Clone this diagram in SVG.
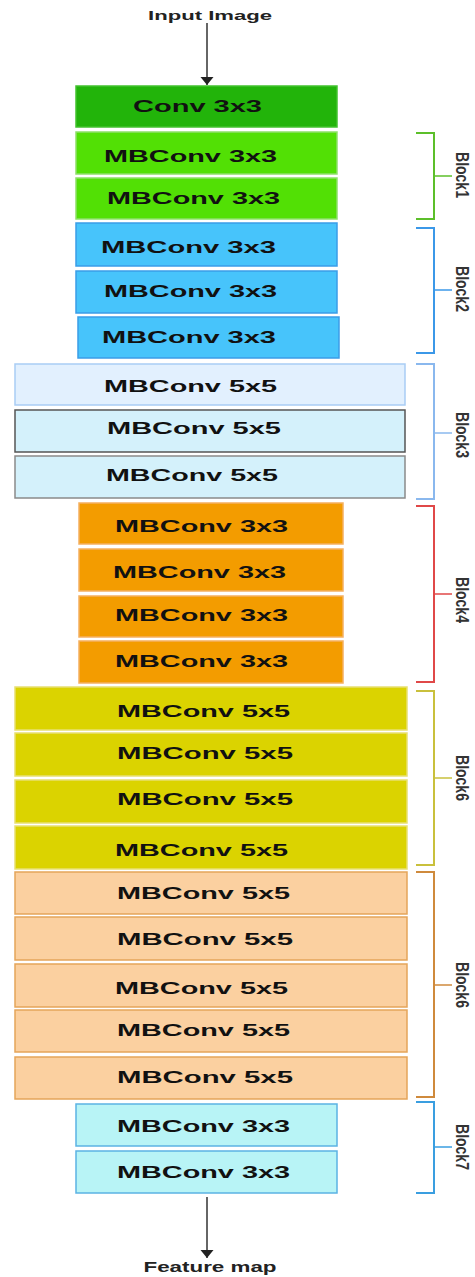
<svg xmlns="http://www.w3.org/2000/svg" width="475" height="1277" viewBox="0 0 475 1277">
<style>
.lb{font-family:"Liberation Sans",Arial,sans-serif;font-weight:bold;font-size:17px;fill:#111;}
.io{font-family:"Liberation Sans",Arial,sans-serif;font-weight:bold;font-size:13px;fill:#222;text-anchor:middle;}
.bl{font-family:"Liberation Sans",Arial,sans-serif;font-weight:bold;font-size:14px;fill:#333;text-anchor:middle;}
.br{fill:none;stroke-width:2;}
.tk{stroke-width:1.5;}
.conv{fill:#22b40a;stroke:#42c22e;stroke-width:1.5;}
.b1{fill:#52e005;stroke:#8ee06a;stroke-width:1.5;}
.b2{fill:#47c4fb;stroke:#3a9de8;stroke-width:1.5;}
.b3a{fill:#e2f0fe;stroke:#a9cdf5;stroke-width:1.5;}
.b3b{fill:#d4f1fb;stroke:#555;stroke-width:1.5;}
.b3c{fill:#d4f1fb;stroke:#8a8a8a;stroke-width:1.5;}
.b4{fill:#f39c00;stroke:#f5b060;stroke-width:1.5;}
.b5{fill:#dbd300;stroke:#e8e070;stroke-width:1.5;}
.b6{fill:#fbd0a0;stroke:#e5a55a;stroke-width:1.5;}
.b7{fill:#b8f4f6;stroke:#5bb3e3;stroke-width:1.5;}
.arr{stroke:#333;stroke-width:1.5;fill:none;}
</style>
<defs>
<marker id="ah" markerUnits="userSpaceOnUse" viewBox="0 -7 8 14" refX="8" refY="0" markerWidth="8" markerHeight="14" orient="auto">
<path d="M0,-6.5 L8,0 L0,6.5 z" fill="#222"/>
</marker>
</defs>
<rect width="475" height="1277" fill="#fff"/>

<text class="io" x="210" y="20" textLength="124" lengthAdjust="spacingAndGlyphs">Input Image</text>
<text class="io" x="210" y="1272" textLength="133" lengthAdjust="spacingAndGlyphs" style="font-size:14px">Feature map</text>

<g id="connectors">
<line class="arr" x1="207" y1="23" x2="207" y2="85" marker-end="url(#ah)"/>
<line class="arr" x1="207" y1="1197" x2="207" y2="1258" marker-end="url(#ah)"/>
</g>

<g id="conv"><rect class="conv" x="76" y="86" width="261" height="41"/><text class="lb" x="133" y="112" textLength="129" lengthAdjust="spacingAndGlyphs">Conv 3x3</text></g>

<g id="b1n1"><rect class="b1" x="76" y="132" width="261" height="42"/><text class="lb" x="104" y="162" textLength="173" lengthAdjust="spacingAndGlyphs">MBConv 3x3</text></g>
<g id="b1n2"><rect class="b1" x="76" y="178" width="261" height="41"/><text class="lb" x="107" y="204" textLength="173" lengthAdjust="spacingAndGlyphs">MBConv 3x3</text></g>

<g id="b2n1"><rect class="b2" x="76" y="223" width="261" height="43"/><text class="lb" x="101" y="253" textLength="175" lengthAdjust="spacingAndGlyphs">MBConv 3x3</text></g>
<g id="b2n2"><rect class="b2" x="76" y="271" width="261" height="42"/><text class="lb" x="104" y="297" textLength="173" lengthAdjust="spacingAndGlyphs">MBConv 3x3</text></g>
<g id="b2n3"><rect class="b2" x="78" y="317" width="261" height="41"/><text class="lb" x="102" y="343" textLength="174" lengthAdjust="spacingAndGlyphs">MBConv 3x3</text></g>

<g id="b3n1"><rect class="b3a" x="15" y="364" width="390" height="41"/><text class="lb" x="104" y="392" textLength="173" lengthAdjust="spacingAndGlyphs">MBConv 5x5</text></g>
<g id="b3n2"><rect class="b3b" x="15" y="410" width="390" height="42"/><text class="lb" x="107" y="434" textLength="174" lengthAdjust="spacingAndGlyphs">MBConv 5x5</text></g>
<g id="b3n3"><rect class="b3c" x="15" y="456" width="390" height="42"/><text class="lb" x="106" y="481" textLength="172" lengthAdjust="spacingAndGlyphs">MBConv 5x5</text></g>

<g id="b4n1"><rect class="b4" x="79" y="503" width="264" height="41"/><text class="lb" x="115" y="532" textLength="173" lengthAdjust="spacingAndGlyphs">MBConv 3x3</text></g>
<g id="b4n2"><rect class="b4" x="79" y="549" width="264" height="42"/><text class="lb" x="113" y="578" textLength="173" lengthAdjust="spacingAndGlyphs">MBConv 3x3</text></g>
<g id="b4n3"><rect class="b4" x="79" y="596" width="264" height="41"/><text class="lb" x="115" y="621" textLength="173" lengthAdjust="spacingAndGlyphs">MBConv 3x3</text></g>
<g id="b4n4"><rect class="b4" x="79" y="641" width="264" height="42"/><text class="lb" x="115" y="667" textLength="173" lengthAdjust="spacingAndGlyphs">MBConv 3x3</text></g>

<g id="b5n1"><rect class="b5" x="15" y="687" width="392" height="43"/><text class="lb" x="117" y="717" textLength="173" lengthAdjust="spacingAndGlyphs">MBConv 5x5</text></g>
<g id="b5n2"><rect class="b5" x="15" y="733" width="392" height="43"/><text class="lb" x="117" y="759" textLength="176" lengthAdjust="spacingAndGlyphs">MBConv 5x5</text></g>
<g id="b5n3"><rect class="b5" x="15" y="780" width="392" height="43"/><text class="lb" x="117" y="805" textLength="176" lengthAdjust="spacingAndGlyphs">MBConv 5x5</text></g>
<g id="b5n4"><rect class="b5" x="15" y="826" width="392" height="43"/><text class="lb" x="115" y="856" textLength="173" lengthAdjust="spacingAndGlyphs">MBConv 5x5</text></g>

<g id="b6n1"><rect class="b6" x="15" y="872" width="392" height="42"/><text class="lb" x="117" y="899" textLength="173" lengthAdjust="spacingAndGlyphs">MBConv 5x5</text></g>
<g id="b6n2"><rect class="b6" x="15" y="917" width="392" height="43"/><text class="lb" x="117" y="945" textLength="176" lengthAdjust="spacingAndGlyphs">MBConv 5x5</text></g>
<g id="b6n3"><rect class="b6" x="15" y="964" width="392" height="43"/><text class="lb" x="115" y="994" textLength="173" lengthAdjust="spacingAndGlyphs">MBConv 5x5</text></g>
<g id="b6n4"><rect class="b6" x="15" y="1010" width="392" height="42"/><text class="lb" x="117" y="1036" textLength="173" lengthAdjust="spacingAndGlyphs">MBConv 5x5</text></g>
<g id="b6n5"><rect class="b6" x="15" y="1057" width="392" height="42"/><text class="lb" x="117" y="1083" textLength="176" lengthAdjust="spacingAndGlyphs">MBConv 5x5</text></g>

<g id="b7n1"><rect class="b7" x="76" y="1104" width="261" height="42"/><text class="lb" x="117" y="1132" textLength="173" lengthAdjust="spacingAndGlyphs">MBConv 3x3</text></g>
<g id="b7n2"><rect class="b7" x="76" y="1151" width="261" height="42"/><text class="lb" x="117" y="1178" textLength="173" lengthAdjust="spacingAndGlyphs">MBConv 3x3</text></g>

<g id="block1">
<path class="br" stroke="#5cbf2a" d="M416,133 H434 V219 H416"/>
<line class="tk" stroke="#5cbf2a" x1="434" y1="176" x2="452" y2="176"/>
<text class="bl" transform="translate(456,175) scale(1.35,1) rotate(90)">Block1</text>
</g>
<g id="block2">
<path class="br" stroke="#3b98e8" d="M416,228 H434 V353 H416"/>
<line class="tk" stroke="#3b98e8" x1="434" y1="290" x2="452" y2="290"/>
<text class="bl" transform="translate(456,289) scale(1.35,1) rotate(90)">Block2</text>
</g>
<g id="block3">
<path class="br" stroke="#8ab8ee" d="M416,364 H434 V499 H416"/>
<line class="tk" stroke="#8ab8ee" x1="434" y1="433" x2="452" y2="433"/>
<text class="bl" transform="translate(456,435) scale(1.35,1) rotate(90)">Block3</text>
</g>
<g id="block4">
<path class="br" stroke="#e04848" d="M416,506 H434 V682 H416"/>
<line class="tk" stroke="#e04848" x1="434" y1="594" x2="452" y2="594"/>
<text class="bl" transform="translate(456,600) scale(1.35,1) rotate(90)">Block4</text>
</g>
<g id="block5">
<path class="br" stroke="#c9c03c" d="M416,691 H434 V865 H416"/>
<line class="tk" stroke="#c9c03c" x1="434" y1="778" x2="452" y2="778"/>
<text class="bl" transform="translate(456,778) scale(1.35,1) rotate(90)">Block6</text>
</g>
<g id="block6">
<path class="br" stroke="#cf8a3c" d="M416,872 H434 V1097 H416"/>
<line class="tk" stroke="#cf8a3c" x1="434" y1="985" x2="452" y2="985"/>
<text class="bl" transform="translate(456,985) scale(1.35,1) rotate(90)">Block6</text>
</g>
<g id="block7">
<path class="br" stroke="#3a9ee0" d="M416,1102 H434 V1193 H416"/>
<line class="tk" stroke="#3a9ee0" x1="434" y1="1147" x2="452" y2="1147"/>
<text class="bl" transform="translate(456,1147) scale(1.35,1) rotate(90)">Block7</text>
</g>
</svg>
